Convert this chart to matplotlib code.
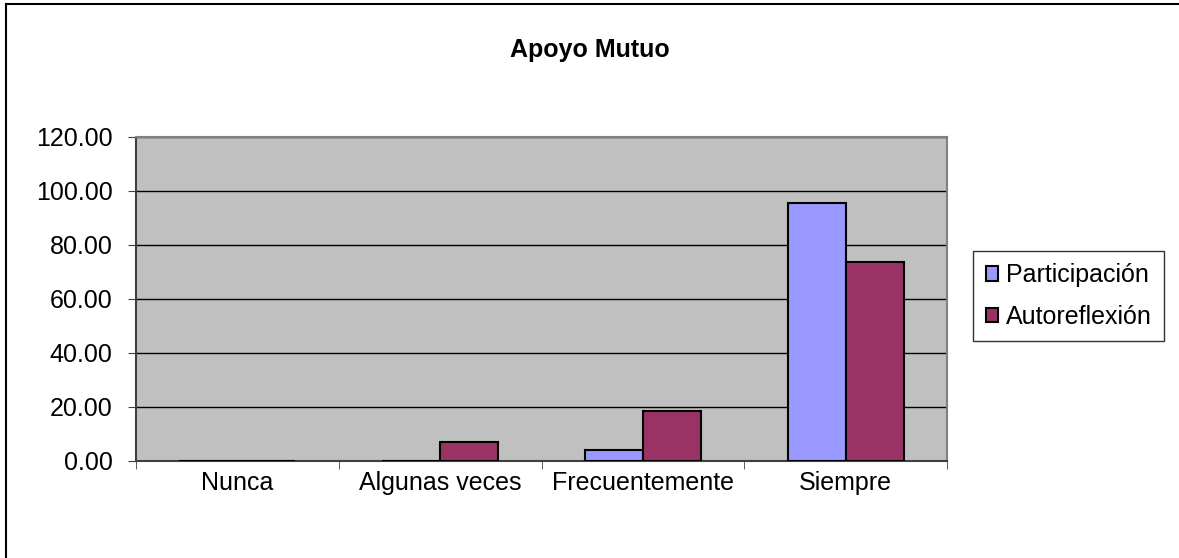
import numpy as np
import matplotlib
matplotlib.use('Agg')
import matplotlib.pyplot as plt
from matplotlib.lines import Line2D

plt.rcParams['font.family'] = ['Liberation Sans', 'DejaVu Sans']

# datos
categorias    = ['Nunca', 'Algunas veces', 'Frecuentemente', 'Siempre']
participacion = [0.0, 0.0, 4.1, 95.7]
autoreflexion = [0.0, 7.0, 18.5, 73.6]
series        = ['Participación', 'Autoreflexión']
colores       = ['#9999FF', '#993366']

W, H = 1179, 558
fig = plt.figure(figsize=(W / 100, H / 100), dpi=100)

# marco exterior (solo izquierda y arriba visibles)
fig.add_artist(Line2D([6 / W, 6 / W], [0, 1 - 4 / H], transform=fig.transFigure,
                      color='black', lw=1.5))
fig.add_artist(Line2D([6 / W, 1], [1 - 4 / H, 1 - 4 / H], transform=fig.transFigure,
                      color='black', lw=1.5))

ax = fig.add_axes([136 / W, 1 - 461 / H, (947 - 136) / W, (461 - 137) / H])
ax.set_facecolor('#C0C0C0')

x = np.arange(len(categorias))
w = 1 / 3.5
ax.bar(x - w / 2, participacion, w, color=colores[0], edgecolor='black', lw=1.5,
       label=series[0], zorder=3)
ax.bar(x + w / 2, autoreflexion, w, color=colores[1], edgecolor='black', lw=1.5,
       label=series[1], zorder=3)

ax.set_xlim(-0.5, len(categorias) - 0.5)
ax.set_ylim(0, 120)
ax.set_yticks(np.arange(0, 121, 20))
ax.set_yticklabels([f'{v:.2f}' for v in np.arange(0, 121, 20)], fontsize=18)
ax.yaxis.grid(True, color='black', lw=1, zorder=1)

ax.set_xticks(x)
ax.set_xticklabels(categorias, fontsize=18)
ax.set_xticks(np.arange(-0.5, len(categorias)), minor=True)
ax.tick_params(axis='x', which='major', length=0, pad=7)
ax.tick_params(axis='x', which='minor', length=6, color='#404040', direction='out')
ax.tick_params(axis='y', length=6, color='#404040', direction='out', pad=11)

for s in ['top', 'right']:
    ax.spines[s].set_color('#808080')
    ax.spines[s].set_linewidth(1.5)
for s in ['left', 'bottom']:
    ax.spines[s].set_color('#404040')
    ax.spines[s].set_linewidth(1.5)

fig.text(590 / W, 1 - 50 / H, 'Apoyo Mutuo', ha='center', va='center',
         fontsize=18, fontweight='bold')

leg = fig.legend(loc='center left', bbox_to_anchor=(973 / W, 1 - 296 / H),
                 fontsize=18, frameon=True, fancybox=False, edgecolor='black',
                 handlelength=0.5, handleheight=0.5, handletextpad=0.3,
                 labelspacing=0.7, borderpad=0.5, borderaxespad=0)
leg.get_frame().set_linewidth(1)

fig.savefig('out.png', dpi=100)
